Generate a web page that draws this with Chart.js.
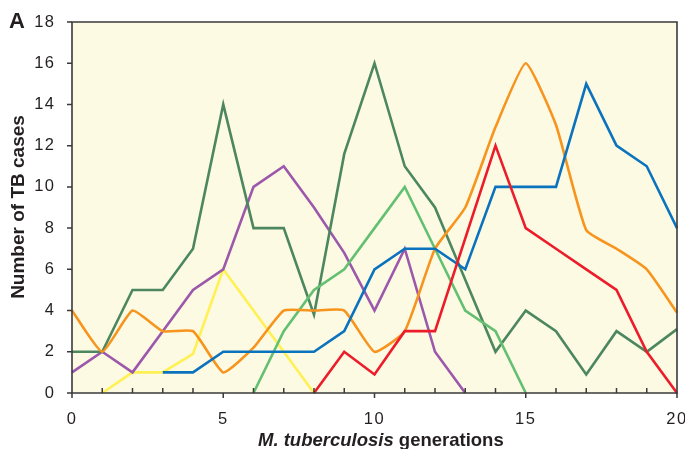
<!DOCTYPE html>
<html>
<head>
<meta charset="utf-8">
<script src="https://cdn.jsdelivr.net/npm/chart.js@4/dist/chart.umd.min.js"></script>
<style>
html,body{margin:0;padding:0;background:#fff;}
#wrap{width:685px;height:449px;position:relative;}
</style>
</head>
<body>
<div id="wrap"><canvas id="c" width="685" height="449"></canvas></div>
<script>
// ---- data ----
const generations = [0,1,2,3,4,5,6,7,8,9,10,11,12,13,14,15,16,17,18,19,20];
const darkGreen  = [2,2,5,5,7,14,8,8,3.8,11.6,16,11,9,5.5,2,4,3,0.9,3,2,3.1];
const purple     = [1,2,1,3,5,6,10,11,9,6.8,4,7,2,0,null,null,null,null,null,null,null];
const orange     = [4,2,4,3,3,1,2.2,4,4,4,2,3,7,9,12.9,16,13,7.9,7,6,3.9];
const blue       = [null,null,null,1,1,2,2,2,2,3,6,7,7,6,10,10,10,15,12,11,8];
const yellow     = [null,0,1,1,1.9,6,4,2,0,null,null,null,null,null,null,null,null,null,null,null,null];
const lightGreen = [null,null,null,null,null,null,0,3,5,6,8,10,7,4,3,0,null,null,null,null,null];
const red        = [null,null,null,null,null,null,null,null,0,2,0.9,3,3,7.5,12,8,7,6,5,2,0];
const xTickLabels = [0,5,10,15,20];
const yTickLabels = [0,2,4,6,8,10,12,14,16,18];

const series = [
  {data: red, color:'#ec1c2a'},
  {data: blue, color:'#0b73bd'},
  {data: orange, color:'#f7941e', tension:0.15},
  {data: lightGreen, color:'#63c072'},
  {data: darkGreen, color:'#4c8760'},
  {data: purple, color:'#9c58ab'},
  {data: yellow, color:'#fff153'}
];

const datasets = series.map(s => ({
  data: generations.map((g,i) => ({x:g, y:s.data[i]})),
  borderColor: s.color,
  backgroundColor: s.color,
  borderWidth: 2.6,
  pointRadius: 0,
  tension: s.tension || 0,
  spanGaps: false,
  fill: false,
  clip: 3
}));

const FONT = '"Liberation Sans", Arial, Helvetica, sans-serif';

const decor = {
  id: 'decor',
  beforeDraw(chart){
    try { chart.ctx.letterSpacing = '1.5px'; } catch(e) {}
  },
  beforeDatasetsDraw(chart){
    const {ctx, chartArea:a} = chart;
    ctx.save();
    ctx.fillStyle = '#fdfae3';
    ctx.fillRect(a.left, a.top, a.right-a.left, a.bottom-a.top);
    ctx.restore();
  },
  afterDatasetsDraw(chart){
    const {ctx, chartArea:a, scales} = chart;
    const xs = scales.x, ys = scales.y;
    ctx.save();
    ctx.strokeStyle = '#3a3a3a';
    ctx.lineWidth = 1.6;
    ctx.beginPath();
    ctx.rect(a.left, a.top, a.right-a.left, a.bottom-a.top);
    ctx.stroke();
    ctx.lineWidth = 1.5;
    ctx.beginPath();
    generations.forEach(g => {
      const px = xs.getPixelForValue(g);
      if (g % 5 === 0) { ctx.moveTo(px, a.bottom); ctx.lineTo(px, a.bottom+5); }
      else { ctx.moveTo(px, a.bottom); ctx.lineTo(px, a.bottom-5); }
    });
    yTickLabels.forEach(v => {
      const py = ys.getPixelForValue(v);
      ctx.moveTo(a.left, py); ctx.lineTo(a.left-5, py);
    });
    ctx.stroke();
    ctx.restore();
  },
  afterDraw(chart){
    const {ctx, chartArea:a} = chart;
    ctx.save();
    try { ctx.letterSpacing = '0px'; } catch(e) {}
    ctx.fillStyle = '#231f20';
    // panel letter
    ctx.font = 'bold 22px ' + FONT;
    ctx.textBaseline = 'alphabetic';
    ctx.textAlign = 'left';
    ctx.fillText('A', 9, 28);
    // x title with italic species name
    const t1 = 'M. tuberculosis', t2 = ' generations';
    ctx.font = 'italic bold 18.5px ' + FONT;
    const w1 = ctx.measureText(t1).width;
    ctx.font = 'bold 18.5px ' + FONT;
    const w2 = ctx.measureText(t2).width;
    const x0 = 258;
    ctx.font = 'italic bold 18.5px ' + FONT;
    ctx.fillText(t1, x0, 446);
    ctx.font = 'bold 18.5px ' + FONT;
    ctx.fillText(t2, x0 + w1, 446);
    // y title
    ctx.translate(24, 207);
    ctx.rotate(-Math.PI/2);
    ctx.textAlign = 'center';
    ctx.font = 'bold 19px ' + FONT;
    ctx.fillText('Number of TB cases', 0, 0);
    ctx.restore();
  }
};

new Chart(document.getElementById('c'), {
  type: 'line',
  data: { datasets },
  options: {
    responsive: false,
    animation: false,
    events: [],
    layout: { padding: {top: 22, right: 8, left: 0, bottom: 0} },
    plugins: { legend: {display:false}, tooltip: {enabled:false} },
    scales: {
      x: {
        type: 'linear', min: 0, max: 20,
        afterBuildTicks(scale){ scale.ticks = xTickLabels.map(v => ({value:v})); },
        afterFit(scale){ scale.height = 56; scale.paddingLeft = 0; scale.paddingRight = 0; },
        grid: {display:false}, border: {display:false},
        ticks: { color:'#231f20', font:{family:FONT, size:16.5}, padding: 9, maxRotation:0 }
      },
      y: {
        min: 0, max: 18,
        afterBuildTicks(scale){ scale.ticks = yTickLabels.map(v => ({value:v})); },
        afterFit(scale){ scale.width = 72; scale.paddingTop = 0; scale.paddingBottom = 0; },
        grid: {display:false}, border: {display:false},
        ticks: { color:'#231f20', font:{family:FONT, size:16.5}, padding: 8.5 }
      }
    }
  },
  plugins: [decor]
});
</script>
</body>
</html>
